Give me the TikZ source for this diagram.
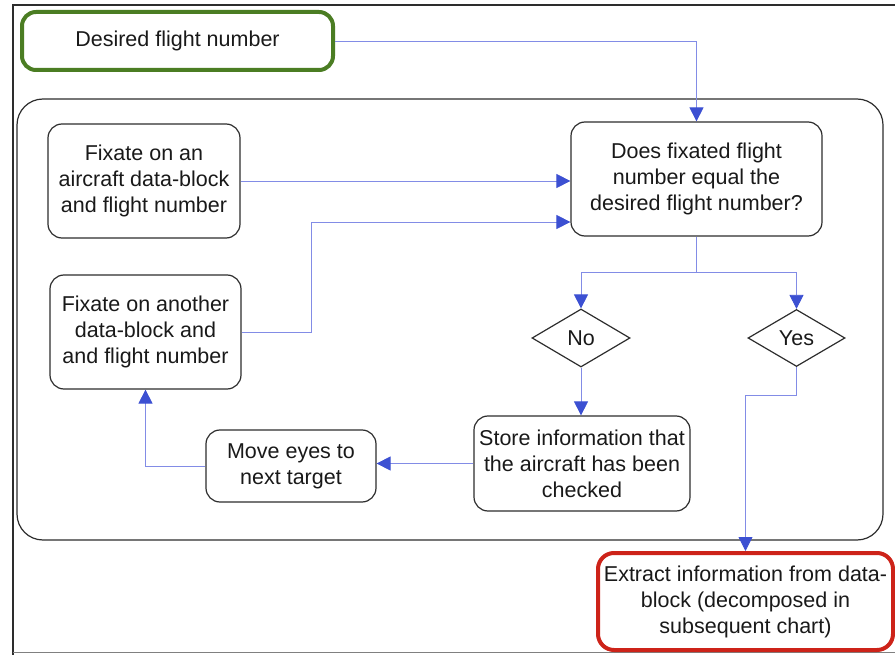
\documentclass[tikz,border=0pt]{standalone}
\usepackage{fontspec}
\setmainfont{Liberation Sans}
\usetikzlibrary{arrows.meta,shapes.geometric,calc}
\definecolor{boxline}{RGB}{45,45,45}
\definecolor{flowline}{RGB}{130,140,230}
\definecolor{flowtip}{RGB}{60,80,210}
\definecolor{startgreen}{RGB}{75,125,35}
\definecolor{endred}{RGB}{205,35,25}
\begin{document}
\begin{tikzpicture}[x=1pt,y=-1pt,
  every node/.style={font=\fontsize{21.5}{26}\selectfont, text=black!90, align=center, inner sep=0pt},
  stepbox/.style={draw=boxline, line width=1.2pt, rounded corners=14pt},
  startbox/.style={draw=startgreen, line width=4pt, rounded corners=14pt},
  endbox/.style={draw=endred, line width=4pt, rounded corners=16pt},
  choice/.style={draw=boxline, line width=1.2pt, diamond, aspect=1.7},
  flow/.style={draw=flowline, line width=0.8pt,
    -{Triangle[width=14pt,length=14pt,color=flowtip]}},
  flowplain/.style={draw=flowline, line width=0.8pt}]
\useasboundingbox (0,0) rectangle (895,655);

% page frame
\draw[boxline, line width=1.2pt] (895,5) -- (13,5) -- (13,655);
\draw[gray, line width=1pt] (13,652) -- (895,652);

% loop container
\draw[boxline, line width=1.2pt, rounded corners=26pt] (17,99) rectangle (883,540);

% steps
\node[startbox, minimum width=311pt, minimum height=58pt] (desired) at (177.5,41) {Desired flight number};
\node[stepbox, minimum width=192pt, minimum height=114pt] (fix1) at (144,181)
  {Fixate on an\\aircraft data-block\\and flight number};
\node[stepbox, minimum width=251pt, minimum height=114pt] (does) at (696.5,179)
  {Does fixated flight\\number equal the\\desired flight number?};
\node[stepbox, minimum width=191pt, minimum height=114pt] (fix2) at (145.5,332)
  {Fixate on another\\data-block and\\and flight number};
\node[choice, minimum width=98pt, minimum height=58pt] (no) at (581,338) {No};
\node[choice, minimum width=97pt, minimum height=57pt] (yes) at (796.5,338) {Yes};
\node[stepbox, minimum width=216pt, minimum height=95pt] (store) at (582,463.5)
  {Store information that\\the aircraft has been\\checked};
\node[stepbox, minimum width=170pt, minimum height=72pt] (move) at (291,466)
  {Move eyes to\\next target};
\node[endbox, minimum width=295pt, minimum height=97pt] (extract) at (745.5,601.5)
  {Extract information from data-\\block (decomposed in\\subsequent chart)};

% connectors
\draw[flow] (desired.east) -| (does.north);
\draw[flow] (fix1.east) -- (fix1.east -| does.west);
\coordinate (riser) at ($(fix2.east)+(70,0)$);
\draw[flow] (fix2.east) -- (riser) |- ($(does.west)+(0,43)$);
\coordinate (split) at ($(does.south)+(0,36)$);
\draw[flow] (does.south) -- (split) -| (no.north);
\draw[flow] (split) -| (yes.north);
\draw[flow] (no.south) -- (no.south |- store.north);
\draw[flow] (store.west) -- (move.east |- store.west);
\draw[flow] (move.west) -| (fix2.south);
\coordinate (drop) at ($(yes.south)+(0,28)$);
\draw[flow] (yes.south) -- (drop) -| (extract.north);
\end{tikzpicture}
\end{document}
